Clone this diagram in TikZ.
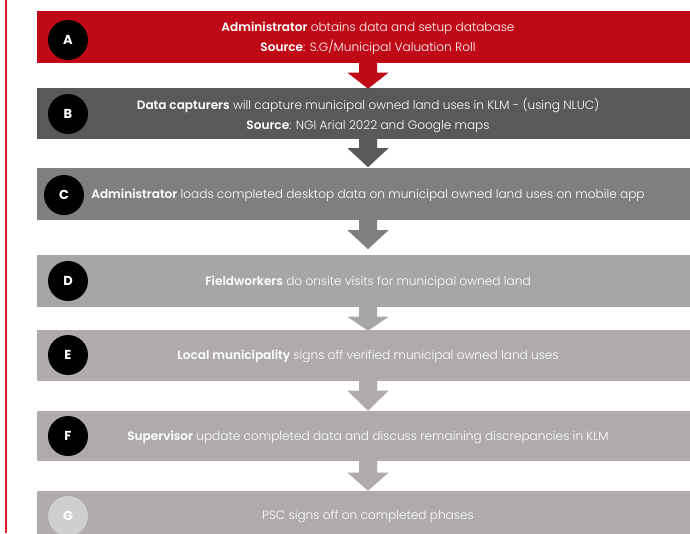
\documentclass[tikz,border=0pt]{standalone}
\usepackage{fontspec}
\setmainfont{Poppins}[UprightFont=* Light, BoldFont=* SemiBold]
\newfontface\badgefont{Poppins Bold}
\usetikzlibrary{calc}
\definecolor{cred}{RGB}{192,9,22}
\definecolor{cline}{RGB}{214,32,42}
\definecolor{cdark}{RGB}{89,89,89}
\definecolor{cmid}{RGB}{127,127,127}
\definecolor{clight}{RGB}{166,166,166}
\definecolor{cwarm}{RGB}{174,171,170}
\definecolor{cgcirc}{RGB}{208,206,206}
\newcommand\blockarrow[4]{% #1 from node, #2 shaft, #3 head, #4 colour
  \fill[#4] ($(#1.south)+(-9,0)$) -- ($(#1.south)+(9,0)$) -- ($(#1.south)+(9,#2)$)
    -- ($(#1.south)+(20.5,#2)$) -- ($(#1.south)+(0,#2+#3)$) -- ($(#1.south)+(-20.5,#2)$)
    -- ($(#1.south)+(-9,#2)$) -- cycle;}
\begin{document}
\begin{tikzpicture}[x=1pt,y=-1pt,
  stepbox/.style={rectangle, inner sep=0pt, minimum width=662pt},
  steptext/.style={inner sep=0pt, text=white, align=center,
    font=\fontsize{12.1}{20}\selectfont},
  badge/.style={circle, fill=black, minimum size=40pt, inner sep=0pt, text=white,
    font=\fontsize{13}{13}\selectfont\badgefont}]
\useasboundingbox (0,0) rectangle (690,533);
\clip (0,0) rectangle (690,533);
\fill[cline] (4.8,0) rectangle (7,533);

\node[stepbox, fill=cred, minimum height=52pt] (A) at (368,36.5) {};
\node[stepbox, fill=cdark, minimum height=51pt] (B) at (368,113.5) {};
\node[stepbox, fill=cmid, minimum height=52pt] (C) at (368,194) {};
\node[stepbox, fill=clight, minimum height=52pt] (D) at (368,280.5) {};
\node[stepbox, fill=cwarm, minimum height=51pt] (E) at (368,355) {};
\node[stepbox, fill=cwarm, minimum height=50pt] (F) at (368,435.5) {};
\node[stepbox, fill=cwarm, minimum height=50pt] (G) at (368,515.5) {};

\node[steptext] (tA) at ($(A.center)+(0,1.5)$)
  {\textbf{Administrator} obtains data and setup database\\\textbf{Source}: S.G/Municipal Valuation Roll};
\node[steptext] (tB) at ($(B.center)+(0,1.5)$)
  {\textbf{Data capturers} will capture municipal owned land uses in KLM - (using NLUC)\\\textbf{Source}: NGI Arial 2022 and Google maps};
\node[steptext] (tC) at ($(C.center)+(0,1.5)$)
  {\textbf{Administrator} loads completed desktop data on municipal owned land uses on mobile app};
\node[steptext] (tD) at ($(D.center)+(0,1.5)$)
  {\textbf{Fieldworkers} do onsite visits for municipal owned land};
\node[steptext] (tE) at ($(E.center)+(0,1.5)$)
  {\textbf{Local municipality} signs off verified municipal owned land uses};
\node[steptext] (tF) at ($(F.center)+(0,1.5)$)
  {\textbf{Supervisor} update completed data and discuss remaining discrepancies in KLM};
\node[steptext] (tG) at ($(G.center)+(0,1.5)$)
  {PSC signs off on completed phases};

\node[badge] (cA) at (68,40) {A};
\node[badge] (cB) at (68,114) {B};
\node[badge] (cC) at (64,195) {C};
\node[badge] (cD) at (68,281) {D};
\node[badge] (cE) at (68,355) {E};
\node[badge] (cF) at (68,436) {F};
\node[badge, fill=cgcirc] (cG) at (68,516) {G};

\blockarrow{A}{10}{16}{cred}
\blockarrow{B}{9}{19}{cdark}
\blockarrow{C}{10}{19}{cmid}
\blockarrow{D}{10}{14}{clight}
\blockarrow{E}{10}{20}{cwarm}
\blockarrow{F}{12}{18}{cwarm}
\end{tikzpicture}
\end{document}
